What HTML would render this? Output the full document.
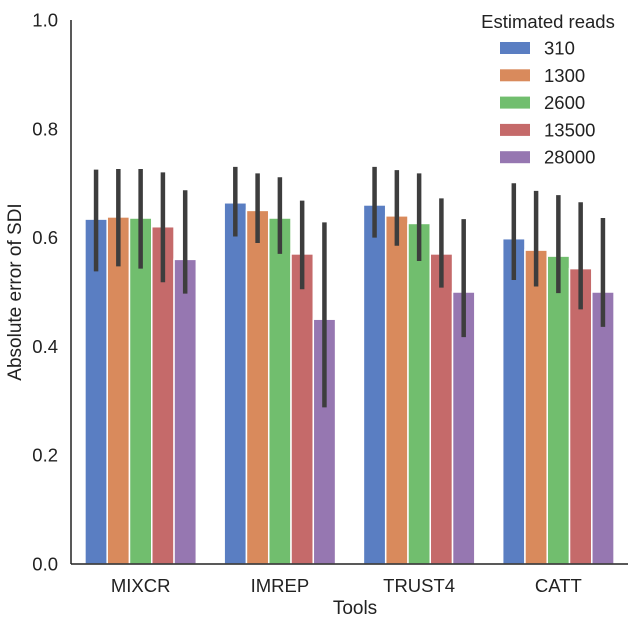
<!DOCTYPE html>
<html><head><meta charset="utf-8"><style>
body{margin:0;background:#fff;}
svg text{font-family:"Liberation Sans",Arial,sans-serif;fill:#222;}
</style></head><body>
<svg id="chart" width="635" height="626" xmlns="http://www.w3.org/2000/svg">
<g id="bars"></g>
<g id="errs"></g>
<g id="axes"></g>
<g id="legend"></g>
</svg>
<script>
const categories = ["MIXCR","IMREP","TRUST4","CATT"];
const seriesNames = ["310","1300","2600","13500","28000"];
const values = [
 [0.634,0.664,0.660,0.598],
 [0.638,0.650,0.640,0.577],
 [0.636,0.636,0.626,0.566],
 [0.620,0.570,0.570,0.543],
 [0.560,0.450,0.500,0.500]
];
const lows = [
 [0.538,0.602,0.600,0.522],
 [0.547,0.590,0.585,0.510],
 [0.543,0.570,0.557,0.498],
 [0.518,0.505,0.508,0.468],
 [0.497,0.288,0.417,0.436]
];
const highs = [
 [0.725,0.730,0.730,0.700],
 [0.726,0.718,0.724,0.686],
 [0.726,0.711,0.718,0.678],
 [0.720,0.668,0.672,0.665],
 [0.687,0.628,0.634,0.636]
];
const yTicks = ["0.0","0.2","0.4","0.6","0.8","1.0"];
const colors = ["#5a7ec2","#d98a5c","#71be6e","#c56a6a","#9677b1"];
const NS="http://www.w3.org/2000/svg";
const x0=71,x1=628,yTop=20,yBot=564;
const y=v=>yBot-(v)*(yBot-yTop);
const groupW=(x1-x0)/categories.length;
const cx=i=>x0+groupW*(i+0.5);
const barW=groupW*0.8/seriesNames.length;
const bx=(i,s)=>cx(i)-groupW*0.4+s*barW;
function mk(tag,attrs,parent){const e=document.createElementNS(NS,tag);for(const k in attrs)e.setAttribute(k,attrs[k]);parent.appendChild(e);return e;}
const gb=document.getElementById('bars'),ge=document.getElementById('errs'),ga=document.getElementById('axes'),gl=document.getElementById('legend');
seriesNames.forEach((s,si)=>{categories.forEach((c,ci)=>{
 const r=mk('rect',{x:bx(ci,si),y:y(values[si][ci]),width:barW,height:yBot-y(values[si][ci]),fill:colors[si],stroke:'#fff','stroke-width':1.5},gb);
 
 
 const l=mk('line',{x1:bx(ci,si)+barW/2,x2:bx(ci,si)+barW/2,y1:y(lows[si][ci]),y2:y(highs[si][ci]),stroke:'#3d3d3d','stroke-width':4.5},ge);
 
 
});});
const ls=mk('line',{x1:x0,x2:x0,y1:yTop,y2:yBot,stroke:'#222','stroke-width':1.5},ga);

const lb=mk('line',{x1:x0,x2:x1,y1:yBot,y2:yBot,stroke:'#222','stroke-width':1.5},ga);

yTicks.forEach(t=>{const e=mk('text',{x:58,y:y(parseFloat(t))+6.5,'text-anchor':'end','font-size':18.5},ga);e.textContent=t;
 });
categories.forEach((c,i)=>{const e=mk('text',{x:cx(i),y:592,'text-anchor':'middle','font-size':18.5},ga);e.textContent=c;
 });
const xt=mk('text',{x:355,y:614,'text-anchor':'middle','font-size':19},ga);xt.textContent='Tools';

const yt=mk('text',{x:0,y:0,'text-anchor':'middle','font-size':19,transform:'translate(21,292) rotate(-90)'},ga);yt.textContent='Absolute error of SDI';

const lt=mk('text',{x:548,y:28,'text-anchor':'middle','font-size':18.5},gl);lt.textContent='Estimated reads';

seriesNames.forEach((s,i)=>{const yy=48+i*27.3;
 const r=mk('rect',{x:500,y:yy-6,width:30,height:12,fill:colors[i]},gl);
 
 const t=mk('text',{x:544,y:yy+6.5,'font-size':18.5},gl);t.textContent=s;
 });
</script>
</body></html>
